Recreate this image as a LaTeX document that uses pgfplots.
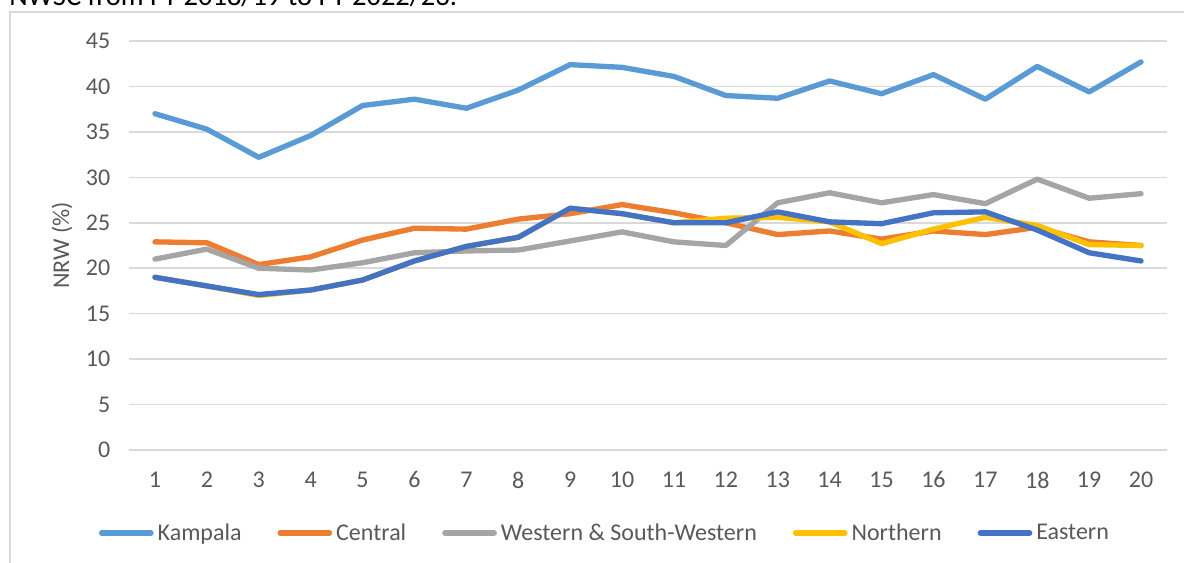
\documentclass[border=0pt]{standalone}
\usepackage{pgfplots}
\pgfplotsset{compat=1.18}
\usepackage{fontspec}
\setmainfont{Carlito}
\definecolor{kam}{HTML}{5B9BD5}
\definecolor{cen}{HTML}{ED7D31}
\definecolor{wes}{HTML}{A5A5A5}
\definecolor{nor}{HTML}{FFC000}
\definecolor{eas}{HTML}{4472C4}
\definecolor{txt}{HTML}{595959}
\definecolor{grd}{HTML}{D9D9D9}
\begin{document}
\begin{tikzpicture}
\begin{axis}[
 at={(96.75pt,84.75pt)}, anchor=south west,
 scale only axis, width=778.5pt, height=306.75pt,
 xmin=0.5, xmax=20.5, ymin=0, ymax=45,
 xtick={1,...,20}, ytick={0,5,...,45},
 axis line style={draw=none},
 major tick length=0pt,
 ymajorgrids, grid style={grd, line width=1.1pt},
 tick label style={font=\fontsize{18}{20}\selectfont, text=txt},
 /pgf/number format/assume math mode=true,
 xticklabel style={yshift=-12.75pt},
 yticklabel style={xshift=-10.5pt},
 ylabel={NRW (\%)},
 ylabel style={font=\fontsize{18}{20}\selectfont, text=txt, at={(axis description cs:-0.0645,0.5)}, anchor=center},
 every axis plot/.append style={line width=4pt, line join=round, line cap=round, mark=none},
 legend style={at={(axis description cs:0.4595,-0.203)}, anchor=center, draw=none, fill=none, font=\fontsize{18}{20}\selectfont, text=txt, inner sep=0pt, nodes={inner xsep=3pt, inner ysep=1pt}},
 legend columns=5,
 legend cell align=left,
 legend style={/tikz/every even column/.append style={column sep=24pt}},
 legend image code/.code={\draw[#1, line cap=round] (2pt,0pt) -- (39pt,0pt);},
]
\addplot[kam] coordinates {(1,37.0)(2,35.3)(3,32.2)(4,34.6)(5,37.9)(6,38.6)(7,37.6)(8,39.6)(9,42.4)(10,42.1)(11,41.1)(12,39.0)(13,38.7)(14,40.6)(15,39.2)(16,41.3)(17,38.6)(18,42.2)(19,39.4)(20,42.7)};
\addlegendentry{Kampala}
\addplot[cen] coordinates {(1,22.9)(2,22.8)(3,20.4)(4,21.25)(5,23.1)(6,24.4)(7,24.3)(8,25.4)(9,26.0)(10,27.0)(11,26.1)(12,25.0)(13,23.7)(14,24.1)(15,23.2)(16,24.1)(17,23.7)(18,24.5)(19,22.9)(20,22.5)};
\addlegendentry{Central}
\addplot[wes] coordinates {(1,21.0)(2,22.1)(3,20.0)(4,19.8)(5,20.6)(6,21.7)(7,21.9)(8,22.0)(9,23.0)(10,24.0)(11,22.9)(12,22.5)(13,27.2)(14,28.3)(15,27.2)(16,28.1)(17,27.1)(18,29.8)(19,27.7)(20,28.2)};
\addlegendentry{Western \& South-Western}
\addplot[nor] coordinates {(1,19.0)(2,18.05)(3,17.0)(4,17.6)(5,18.7)(6,20.8)(7,22.4)(8,23.4)(9,26.6)(10,26.0)(11,25.0)(12,25.5)(13,25.6)(14,25.1)(15,22.7)(16,24.3)(17,25.6)(18,24.7)(19,22.6)(20,22.5)};
\addlegendentry{Northern}
\addplot[eas] coordinates {(1,19.0)(2,18.05)(3,17.1)(4,17.6)(5,18.7)(6,20.8)(7,22.4)(8,23.4)(9,26.6)(10,26.0)(11,25.0)(12,25.0)(13,26.2)(14,25.1)(15,24.9)(16,26.1)(17,26.2)(18,24.2)(19,21.7)(20,20.8)};
\addlegendentry{Eastern}
\end{axis}
\draw[grd, line width=1.1pt] (7.5pt,-5pt) -- (7.5pt,413.25pt) -- (895pt,413.25pt);
\node[anchor=base west, inner sep=0pt, font=\fontsize{21.4}{24}\selectfont] at (6.75pt,417.75pt) {NWSC from FY 2018/19 to FY 2022/23.};
\pgfresetboundingbox
\useasboundingbox (0pt,0pt) rectangle (888pt,422.25pt);
\end{tikzpicture}
\end{document}
